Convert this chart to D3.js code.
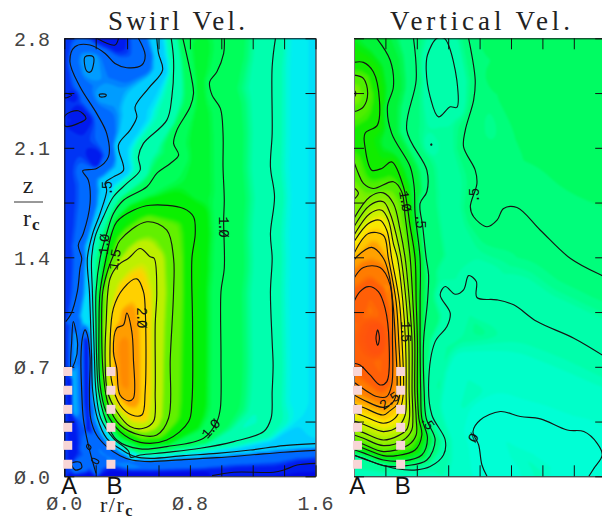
<!DOCTYPE html>
<html><head><meta charset="utf-8">
<script src="https://cdn.jsdelivr.net/npm/d3@7/dist/d3.min.js"></script>
<style>html,body{margin:0;padding:0;background:#fff;overflow:hidden}svg{display:block}</style>
</head><body><svg id="c" width="602" height="516"></svg>
<script>
// ---------- axis data ----------
const zTicks=[0,0.7,1.4,2.1,2.8];
const zTickLabels=["Ø.0","Ø.7","1.4","2.1","2.8"];
const rLabelTicks=[0,0.8,1.6];
const rLabels=["Ø.0","Ø.8","1.6"];
const rMinor=[0,0.2,0.4,0.6,0.8,1.0,1.2,1.4,1.6];
const zMinor=[0,0.35,0.7,1.05,1.4,1.75,2.1,2.45,2.8];
const stationZ=[0.67,0.55,0.428,0.313,0.198,0.077];
const stationR=[0.022,0.297];
const stationNames=["A","B"];
const stationNameR=[[0.03,0.32],[0.02,0.31]];
const titles=["Swirl Vel.","Vertical Vel."];

// ---------- swirl velocity contours, read as [r, z] ----------
const s025top=[[.472,2.8],[.515,2.693],[.494,2.629],[.398,2.612],[.323,2.639],[.26,2.703],[.164,2.757],[.068,2.746],[.036,2.65],[.1,2.49],[.206,2.32],[.27,2.192],[.281,2.042],[.206,1.968],[.117,1.953],[.153,1.893],[.164,1.744],[.121,1.552],[.089,1.477],[.111,1.394],[.1,1.33],[.083,1.181],[.04,1.032],[.009,.989]];
const s025low=[[1.6,.166],[1.398,.154],[1.185,.136],[.972,.119],[.76,.107],[.547,.094],[.43,.104],[.355,.132],[.27,.19],[.206,.264],[.168,.371],[.16,.542],[.164,.755],[.147,.904],[.132,.936],[.115,.883],[.106,.755],[.111,.542],[.121,.371],[.153,.2],[.202,.019]];
const s025spike=[[.057,.989],[.085,.84],[.068,.733],[.043,.691],[.047,.861]];
const s025foot=[[.047,.083],[.1,.09],[.111,.055],[.068,.041]];
const s025bit1=[[.15,.205],[.17,.185],[.16,.17],[.142,.19]];
const s025bit2=[[.18,.115],[.22,.095],[.21,.08],[.175,.1]];
const s035a=[[.132,2.682],[.185,2.682],[.168,2.586],[.143,2.59]];
const s035b=[[.223,2.441],[.265,2.441],[.265,2.43],[.228,2.426]];
const s010a=[[.004,2.305],[.089,2.337],[.138,2.288],[.089,2.256],[.004,2.239]];
const s010b=[[.004,2.447],[.047,2.437],[.004,2.42]];
const s010c=[[.206,2.8],[.323,2.757],[.345,2.8]];
const s010d=[[.941,.004],[1.079,.026],[1.334,.026],[1.398,.04],[1.483,.072],[1.6,.083]];
const s050=[[.589,2.8],[.6,2.703],[.626,2.597],[.536,2.48],[.451,2.362],[.462,2.298],[.419,2.213],[.345,2.117],[.377,1.957],[.313,1.914],[.26,1.876],[.27,1.829],[.228,1.68],[.181,1.552],[.147,1.394],[.16,1.181],[.168,.968],[.174,.755],[.181,.542],[.211,.371],[.27,.243],[.377,.162],[.451,.126],[.547,.115],[.76,.132],[.972,.147],[1.185,.168],[1.398,.196],[1.6,.209]];
const s075=[[.681,2.8],[.696,2.661],[.685,2.426],[.653,2.277],[.504,2.128],[.472,2.042],[.483,1.957],[.398,1.872],[.313,1.787],[.249,1.659],[.196,1.531],[.174,1.394],[.179,1.181],[.185,.968],[.192,.755],[.202,.542],[.232,.371],[.313,.243],[.409,.162],[.423,.122],[.483,.136],[.653,.153],[.866,.179],[1.079,.222],[1.27,.286],[1.317,.371],[1.324,.542],[1.33,.712],[1.324,.861],[1.313,1.181],[1.324,1.394],[1.313,1.552],[1.339,1.787],[1.313,1.979],[1.324,2.192],[1.324,2.618],[1.345,2.8]];
const s100=[[.755,2.8],[.813,2.533],[.823,2.447],[.802,2.362],[.717,2.213],[.696,2.128],[.728,2.053],[.675,2],[.589,1.936],[.526,1.851],[.377,1.765],[.313,1.68],[.27,1.552],[.228,1.394],[.202,1.181],[.202,.968],[.206,.755],[.219,.542],[.26,.371],[.334,.232],[.483,.175],[.653,.19],[.887,.243],[.972,.35],[.994,.435],[.998,.755],[.998,1.181],[1.019,1.33],[1.015,1.637],[1.019,1.765],[1.011,1.979],[1.011,2.192],[.994,2.352],[.941,2.437],[.926,2.522],[.972,2.586],[1.015,2.703],[1.019,2.8]];
const s125=[[.334,1.627],[.44,1.701],[.547,1.733],[.76,1.712],[.823,1.659],[.834,1.552],[.813,1.394],[.817,.968],[.813,.478],[.792,.35],[.653,.232],[.483,.217],[.355,.286],[.266,.414],[.228,.584],[.221,.968],[.228,1.181],[.266,1.394],[.302,1.552]];
const s150=[[.355,1.509],[.526,1.627],[.653,1.573],[.696,1.394],[.696,1.181],[.675,.755],[.664,.371],[.589,.264],[.483,.264],[.355,.328],[.281,.456],[.249,.648],[.238,.968],[.245,1.181],[.281,1.33],[.323,1.437]];
const s175=[[.409,1.394],[.483,1.456],[.547,1.403],[.572,1.394],[.589,1.181],[.579,.968],[.579,.542],[.568,.35],[.504,.307],[.419,.318],[.334,.414],[.275,.542],[.26,.755],[.266,.968],[.292,1.266],[.345,1.352]];
const s200=[[.462,1.262],[.504,1.181],[.515,1.075],[.515,.542],[.494,.392],[.43,.392],[.355,.456],[.302,.605],[.292,.861],[.313,1.075],[.377,1.202]];
const s225=[[.398,1.043],[.43,.925],[.44,.755],[.44,.499],[.409,.482],[.355,.52],[.334,.691],[.313,.797],[.334,.947],[.377,.968]];
const swirlContours=[[.25,s025top,0],[.25,s025low,0],[.25,s025spike,1],[.25,s025foot,1],[.25,s025bit1,1],[.25,s025bit2,1],[.35,s035a,1],[.35,s035b,1],[.1,s010a,1],[.1,s010b,1],[.1,s010c,0],[.1,s010d,0],[.5,s050,0],[.75,s075,0],[1,s100,0],[1.25,s125,1],[1.5,s150,1],[1.75,s175,1],[2,s200,1],[2.25,s225,1]];
const sTongue=[[.13,.88],[.135,.55],[.14,.3]];
const sNearAxis=[[.025,.62],[.03,.1]];
const sSpikeCore=[[.062,.92],[.06,.72]];
const sStrip=[[.055,.68],[.06,.42]];
const swirlShade=[[.15,[[0,0],[0,2.8]]],[.04,[[0,0],[1.6,0]]],[.55,[[1.6,.3],[1.6,2.8]]],[.62,[[1.483,.5],[1.483,2.8]]],[1.1,[[.86,1.85],[.85,2.75]]],[.08,[[.198,2],[.2,2.04]]],[2.42,[[.37,.6],[.37,.85]]],[.06,sTongue],[.08,sNearAxis],[.45,sSpikeCore],[.4,sStrip]];
const swirlLevels=[0,.1,.25,.5,.62,.75,1,1.25,1.5,1.75,2,2.25,2.5];
const swirlColors=["#0000e0","#0020f0","#0068ff","#00d4ff","#00f4ee","#00ffb4","#00ff58","#00f000","#60f000","#c4f000","#ffd400","#ff9c00","#ff8000"];
const swirlNotes=[[".5",.272,1.835,-90],["1.Ø",.253,1.477,-85],["1.5",.32,1.38,-80],["1.Ø",1.015,1.6,90],["2.Ø",.494,1.02,90],["1.Ø",.93,.3,-48]];

// ---------- vertical velocity contours, read as [r, z] ----------
const v000=[[.847,0],[.815,.072],[.794,.2],[.758,.286],[.804,.36],[.932,.414],[1.06,.382],[1.187,.367],[1.358,.296],[1.464,.286],[1.549,.211],[1.581,.136],[1.528,.051],[1.496,0]];
const v025loop=[[.528,2.8],[.468,2.693],[.46,2.597],[.485,2.426],[.538,2.298],[.613,2.362],[.655,2.358],[.655,2.533],[.602,2.757],[.575,2.8]];
const v025dot=[[.49,2.124],[.495,2.124],[.495,2.118],[.49,2.118]];
const v025=[[1.613,.755],[1.4,.883],[1.166,.989],[1.017,1.096],[.911,1.128],[.783,1.143],[.779,1.245],[.73,1.283],[.698,1.192],[.645,1.164],[.581,1.213],[.549,1.16],[.613,1.043],[.592,.957],[.517,.861],[.475,.584],[.496,.392],[.581,.232],[.57,.136],[.485,.062],[.4,.041],[.272,.048],[.123,.09],[0,.136]];
const v050right=[[.73,2.8],[.772,2.533],[.762,2.405],[.709,2.213],[.698,2.106],[.772,1.957],[.783,1.872],[.741,1.723],[.762,1.659],[.847,1.595],[.911,1.637],[.953,1.712],[1.038,1.718],[1.187,1.573],[1.379,1.392],[1.57,1.288],[1.613,1.27]];
const v050left=[[.379,2.8],[.396,2.533],[.336,2.213],[.464,1.957],[.464,1.819],[.421,1.744],[.438,1.595],[.46,1.394],[.475,1.288],[.468,1.117],[.443,.861],[.447,.542],[.46,.371],[.517,.232],[.464,.104],[.336,.068],[.187,.068],[.06,.115],[0,.135]];
const v075=[[.145,2.8],[.23,2.661],[.251,2.49],[.213,2.362],[.24,2.192],[.358,1.979],[.383,1.851],[.389,1.68],[.421,1.394],[.421,1.117],[.421,.861],[.425,.542],[.432,.371],[.468,.243],[.432,.136],[.315,.098],[.187,.104],[.06,.15],[0,.17]];
const v100=[[0,2.646],[.06,2.646],[.123,2.586],[.162,2.405],[.149,2.245],[.07,2.192],[.07,2.106],[.113,1.957],[.177,1.968],[.24,2.01],[.315,1.851],[.358,1.595],[.389,1.394],[.396,1.117],[.404,.861],[.404,.542],[.413,.371],[.432,.264],[.389,.168],[.272,.132],[.187,.132],[.06,.179],[0,.2]];
const v125upper=[[0,2.565],[.06,2.544],[.087,2.447],[.06,2.362],[0,2.33]];
const v125=[[0,2.01],[.028,1.936],[.06,1.872],[.123,1.84],[.251,1.883],[.304,1.819],[.326,1.659],[.358,1.394],[.375,1.117],[.387,.861],[.387,.542],[.396,.371],[.396,.264],[.347,.2],[.187,.158],[.06,.205],[0,.226]];
const v150tip=[[0,1.845],[.028,1.81],[0,1.77]];
const v150=[[0,1.648],[.102,1.787],[.187,1.812],[.251,1.744],[.294,1.573],[.326,1.394],[.353,1.117],[.37,.861],[.37,.542],[.375,.371],[.368,.296],[.315,.232],[.187,.196],[.06,.243],[0,.264]];
const v175=[[0,1.595],[.102,1.733],[.187,1.755],[.23,1.68],[.272,1.531],[.3,1.394],[.332,1.117],[.349,.861],[.351,.542],[.353,.371],[.336,.3],[.283,.26],[.187,.232],[.06,.279],[0,.3]];
const v200=[[0,1.541],[.102,1.68],[.177,1.701],[.219,1.637],[.251,1.488],[.277,1.394],[.311,1.117],[.328,.861],[.332,.542],[.326,.392],[.283,.32],[.187,.286],[.06,.333],[0,.354]];
const v225=[[0,1.499],[.092,1.616],[.166,1.637],[.209,1.573],[.24,1.394],[.289,1.117],[.306,.861],[.315,.542],[.298,.44],[.26,.37],[.187,.339],[.06,.386],[0,.407]];
const v250=[[0,1.424],[.092,1.552],[.187,1.541],[.219,1.394],[.268,1.117],[.285,.861],[.294,.542],[.272,.456],[.23,.42],[.187,.392],[.06,.44],[0,.46]];
const v275=[[0,1.38],[.017,1.403],[.113,1.463],[.187,1.394],[.223,1.288],[.247,1.117],[.264,.861],[.272,.542],[.251,.478],[.187,.441],[.06,.488],[0,.52]];
const v300=[[0,1.266],[.06,1.335],[.166,1.335],[.23,1.224],[.245,.861],[.24,.584],[.209,.51],[.145,.51],[.07,.552],[0,.601]];
const v325=[[0,1.117],[.038,1.181],[.092,1.213],[.155,1.181],[.198,1.075],[.223,.861],[.209,.605],[.166,.584],[.102,.648],[.038,.712],[0,.723]];
const v350=[[.151,.936],[.162,.882],[.151,.836],[.14,.882]];
const v150seed=[[0,2.47],[.012,2.447],[0,2.42]];
const verticalContours=[[0,v000,0],[.25,v025loop,1],[.25,v025dot,1],[.25,v025,0],[.5,v050right,0],[.5,v050left,0],[.75,v075,0],[1,v100,0],[1.25,v125upper,0],[1.25,v125,0],[1.5,v150tip,0],[1.5,v150seed,0],[1.5,v150,0],[1.75,v175,0],[2,v200,0],[2.25,v225,0],[2.5,v250,0],[2.75,v275,0],[3,v300,0],[3.25,v325,0],[3.5,v350,1]];
const vGreenA=[[1.038,2.597],[1.187,2.682],[1.379,2.703],[1.528,2.554],[1.485,2.256],[1.443,2.128],[1.273,2.298],[1.102,2.426],[1.017,2.49]];
const vGreenB=[[.868,2.767],[.953,2.767],[.953,2.597],[.89,2.565]];
const vPale=[[1.613,.414],[1.23,.55],[1.017,.648],[.826,.691],[.677,.723],[.634,.648],[.592,.456],[.655,.2],[.666,0]];
const vChannel=[[.549,2.192],[.592,1.872],[.634,1.552],[.66,1.394],[.58,1.3]];
const vBase=[[0,0],[.47,0]];
const verticalShade=[[.62,vGreenA],[.62,vGreenB],[.12,vPale],[.34,vChannel],[.16,vBase]];
const verticalLevels=[-.1,0,.12,.25,.5,.62,.75,1,1.25,1.5,1.75,2,2.25,2.5,2.75,3,3.25,3.6];
const verticalColors=["#00ffe4","#00ffd8","#00ffc8","#00ffb0","#00ff84","#00fc60","#00f640","#08ec00","#48ee00","#78f000","#a4f000","#d0f000","#ffe800","#ffc400","#ff9c00","#ff7800","#ff5c08","#ff4c10"];
const verticalNotes=[[".5",.765,1.79,-90],["1.Ø",.326,1.765,80],[".5",.421,1.637,90],["1.5",.328,.93,90],["2.5",.22,.48,-35],[".5",.465,.35,55],["Ø",.758,.24,-60]];

// ---------- layout ----------
const svg=d3.select("#c");
const top0=38.3,bot0=476.3;
const yS=d3.scaleLinear().domain([0,2.8]).range([bot0,top0]);
const panels=[
 {name:titles[0],x:d3.scaleLinear().domain([0,1.6]).range([64.3,315.5]),c:swirlContours,s:swirlShade,lv:swirlLevels,col:swirlColors,notes:swirlNotes,min:0,max:2.5,stationNameR:stationNameR[0],tx:108,tw:137,leftAxis:"#111"},
 {name:titles[1],x:d3.scaleLinear().domain([0,1.6]).range([354,605.2]),c:verticalContours,s:verticalShade,lv:verticalLevels,col:verticalColors,notes:verticalNotes,min:-.1,max:3.6,stationNameR:stationNameR[1],tx:390,tw:180,leftAxis:"#777"}
];
const defs=svg.append("defs");
const blur=defs.append("filter").attr("id","soft").attr("x","-5%").attr("y","-5%").attr("width","110%").attr("height","110%").attr("color-interpolation-filters","sRGB");
blur.append("feGaussianBlur").attr("stdDeviation",.8);

function segDist(px,py,a,b){
  const dx=b[0]-a[0],dy=b[1]-a[1],l=dx*dx+dy*dy;
  let t=l?((px-a[0])*dx+(py-a[1])*dy)/l:0;t=t<0?0:t>1?1:t;
  const qx=a[0]+t*dx-px,qy=a[1]+t*dy-py;return qx*qx+qy*qy;
}
panels.forEach((p,pi)=>{
  const x=p.x,x0=x.range()[0],W=x.range()[1]-x0,H=bot0-top0;
  const cell=2,pad=6,nx=Math.ceil((W+2*pad)/cell),ny=Math.ceil((H+2*pad)/cell);
  const toPx=pts=>pts.map(d=>[x(d[0]),yS(d[1])]);
  const all=[...p.c.map(d=>({level:d[0],pts:toPx(d[2]?d[1].concat([d[1][0]]):d[1])})),
             ...p.s.map(d=>({level:d[0],pts:toPx(d[1])}))];
  const levels=[...new Set(all.map(d=>d.level))];
  const grid=new Float64Array(nx*ny);
  const dl=new Float64Array(levels.length);
  for(let j=0;j<ny;j++)for(let i=0;i<nx;i++){
    const px=x0-pad+i*cell,py=top0-pad+j*cell;
    dl.fill(1e12);
    all.forEach(l=>{const k=levels.indexOf(l.level);
      for(let s=0;s<l.pts.length-1;s++){const d=segDist(px,py,l.pts[s],l.pts[s+1]);if(d<dl[k])dl[k]=d;}});
    let sw=0,sv=0;
    for(let k=0;k<levels.length;k++){const w=1/Math.pow(dl[k]+.25,2.2);sw+=w;sv+=w*levels[k];}
    grid[j*nx+i]=sv/sw;
  }
  const color=d3.scaleLinear().domain(p.lv).range(p.col).clamp(true);
  const step=(p.max-p.min)/44;
  const th=d3.range(p.min-step,p.max+step,step);
  const bands=d3.contours().size([nx,ny]).thresholds(th)(Array.from(grid));
  const gp=d3.geoPath(d3.geoTransform({point(a,b){this.stream.point(x0-pad+a*cell,top0-pad+b*cell);}}));
  const cid="clip"+pi;
  defs.append("clipPath").attr("id",cid).append("rect").attr("x",x0).attr("y",top0).attr("width",W).attr("height",H);
  const clip=svg.append("g").attr("clip-path",`url(#${cid})`);
  clip.append("rect").attr("x",x0).attr("y",top0).attr("width",W).attr("height",H).attr("fill",color(p.min));
  clip.append("g").attr("filter","url(#soft)").selectAll("path").data(bands).join("path")
    .attr("d",gp).attr("fill",d=>color(d.value+step/2));
  // contour lines
  const lineOpen=d3.line().x(d=>x(d[0])).y(d=>yS(d[1])).curve(d3.curveCatmullRom.alpha(.5));
  const lineClosed=d3.line().x(d=>x(d[0])).y(d=>yS(d[1])).curve(d3.curveCatmullRomClosed.alpha(.5));
  clip.append("g").selectAll("path").data(p.c).join("path")
    .attr("d",d=>(d[2]?lineClosed:lineOpen)(d[1])).attr("fill","none").attr("stroke","#141414").attr("stroke-width",1.15).attr("stroke-linejoin","round");
  // contour labels
  clip.append("g").selectAll("text").data(p.notes).join("text")
    .attr("transform",d=>`translate(${x(d[1])},${yS(d[2])}) rotate(${d[3]})`)
    .attr("text-anchor","middle").attr("dy",4.5).attr("font-family","Liberation Mono").attr("font-size",14).attr("letter-spacing",-2).attr("fill","#111").text(d=>d[0]);
  // axes: inward ticks on all four sides
  const tick=(g,a,dom)=>{g.call(a);g.selectAll("text").remove();g.selectAll("line,path").attr("stroke","#111").attr("stroke-width",1);if(dom)g.select(".domain").attr("stroke",dom);};
  const ax=svg.append("g");
  ax.append("g").attr("transform",`translate(0,${top0})`).call(g=>tick(g,d3.axisTop(x).tickValues(rMinor).tickSizeInner(-11).tickSizeOuter(0)));
  ax.append("g").attr("transform",`translate(0,${bot0})`).call(g=>tick(g,d3.axisBottom(x).tickValues(rMinor).tickSizeInner(-11).tickSizeOuter(0)));
  ax.append("g").attr("transform",`translate(${x0},0)`).call(g=>tick(g,d3.axisLeft(yS).tickValues(zMinor).tickSizeInner(-10).tickSizeOuter(0),p.leftAxis));
  ax.append("g").attr("transform",`translate(${x0+W},0)`).call(g=>tick(g,d3.axisRight(yS).tickValues(zMinor).tickSizeInner(-10).tickSizeOuter(0)));
  // station squares
  svg.append("g").selectAll("rect").data(d3.cross(stationR,stationZ)).join("rect")
    .attr("x",d=>x(d[0])-4.5).attr("y",d=>yS(d[1])-4.5).attr("width",9).attr("height",9).attr("fill","#f8d6d6");
  // station names
  svg.append("g").selectAll("text").data(stationNames).join("text")
    .attr("x",(d,i)=>x(p.stationNameR[i])).attr("y",493.5).attr("text-anchor","middle")
    .attr("font-family","Liberation Sans").attr("font-size",24).attr("fill","#111").text(d=>d);
  // title
  svg.append("text").attr("x",p.tx).attr("y",30).attr("textLength",p.tw).attr("lengthAdjust","spacing")
    .attr("font-family","Liberation Serif").attr("font-size",27).attr("fill","#222").text(p.name);
});
// z tick labels
const xL=panels[0].x;
svg.append("g").selectAll("text").data(zTicks).join("text")
  .attr("x",50).attr("y",d=>yS(d)+7.5).attr("text-anchor","end")
  .attr("font-family","Liberation Mono").attr("font-size",20).attr("fill","#444").text((d,i)=>zTickLabels[i]);
// r tick labels
svg.append("g").selectAll("text").data(rLabelTicks).join("text")
  .attr("x",d=>xL(d)).attr("y",510).attr("text-anchor","middle")
  .attr("font-family","Liberation Mono").attr("font-size",20).attr("fill","#444").text((d,i)=>rLabels[i]);
// axis names
const serif="Liberation Serif";
svg.append("text").attr("x",28).attr("y",193).attr("text-anchor","middle").attr("font-family",serif).attr("font-size",24).attr("fill","#222").text("z");
svg.append("line").attr("x1",14).attr("x2",43).attr("y1",202).attr("y2",202).attr("stroke","#333");
const rc=svg.append("text").attr("x",23).attr("y",226).attr("font-family",serif).attr("font-size",24).attr("fill","#222");
rc.append("tspan").text("r");
rc.append("tspan").attr("dy",4).attr("font-size",17).attr("font-weight","bold").attr("dx",1).text("c");
const rr=svg.append("text").attr("x",100).attr("y",512).attr("font-family",serif).attr("font-size",22).attr("letter-spacing",1.5).attr("fill","#222");
rr.append("tspan").text("r/r");
rr.append("tspan").attr("dy",4).attr("font-size",16).attr("font-weight","bold").text("c");
</script></body></html>
